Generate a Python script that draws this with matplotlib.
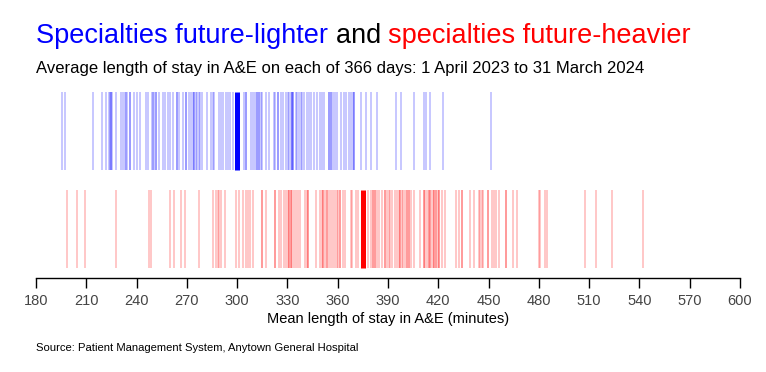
import matplotlib
matplotlib.use("Agg")
import matplotlib.pyplot as plt
import numpy as np

plt.rcParams["font.family"] = ["Liberation Sans", "DejaVu Sans"]

# daily mean length of stay (minutes)
lighter_days = [
    195.7, 197.5, 214.2, 219.6, 221.9, 223.4, 224.2, 224.9, 224.9, 225.5, 227.9, 230.9,
    232.1, 232.8, 233.4, 234.1, 236.3, 236.3, 238.3, 240.4, 242.2, 245.4, 246.8, 249.0,
    249.7, 250.4, 251.6, 251.6, 253.4, 255.9, 257.1, 258.8, 259.9, 261.9, 263.9, 263.9,
    265.3, 267.5, 269.7, 269.7, 271.5, 272.6, 273.5, 274.4, 274.4, 275.3, 276.0, 277.2,
    278.1, 278.9, 282.2, 284.4, 285.3, 286.2, 289.4, 290.4, 291.7, 293.2, 294.5, 295.9,
    297.5, 304.3, 305.3, 305.3, 308.3, 309.3, 310.5, 311.8, 311.8, 313.0, 313.0, 314.0,
    314.8, 317.4, 318.8, 321.8, 322.8, 324.6, 324.6, 326.2, 327.4, 329.2, 330.1, 331.1,
    332.0, 332.9, 332.9, 333.6, 333.6, 335.1, 336.0, 336.9, 337.8, 338.7, 340.1, 341.9,
    343.0, 344.1, 346.0, 347.8, 349.4, 350.6, 351.8, 355.0, 355.0, 356.0, 356.0, 356.9,
    358.6, 359.6, 362.0, 363.8, 364.9, 366.7, 368.1, 369.0, 369.9, 369.9, 374.1, 376.6,
    380.0, 383.6, 394.9, 397.9, 405.7, 411.5, 412.6, 415.2, 422.9, 451.6,
]
heavier_days = [
    198.7, 204.6, 209.4, 227.9, 247.4, 248.4, 260.1, 262.5, 266.7, 269.1, 277.4, 285.8,
    287.4, 288.4, 289.2, 290.4, 292.9, 299.5, 301.3, 303.7, 305.3, 306.5, 307.7, 309.6,
    315.0, 315.0, 317.4, 322.8, 322.8, 325.2, 326.3, 328.0, 329.2, 330.5, 331.1, 331.1,
    332.3, 332.3, 333.0, 333.9, 335.1, 336.3, 337.5, 340.5, 341.7, 342.5, 342.5, 347.2,
    349.6, 350.8, 351.4, 351.4, 352.2, 353.4, 353.4, 354.6, 356.0, 357.0, 358.6, 359.6,
    360.2, 361.5, 361.5, 363.2, 364.5, 367.8, 368.5, 370.7, 372.3, 378.1, 379.7, 381.2,
    381.2, 382.0, 382.0, 383.3, 384.5, 386.6, 388.0, 388.4, 389.5, 390.6, 391.4, 392.4,
    394.4, 395.6, 396.4, 397.2, 397.2, 398.2, 399.1, 400.1, 401.2, 401.2, 402.3, 402.3,
    403.5, 405.8, 408.8, 411.2, 411.2, 411.9, 413.1, 414.2, 414.2, 414.9, 415.6, 417.0,
    417.7, 417.7, 418.9, 418.9, 419.6, 420.6, 420.6, 422.0, 424.2, 430.7, 432.1, 434.3,
    434.3, 439.1, 441.4, 444.0, 444.9, 446.1, 446.9, 449.4, 449.4, 451.8, 453.5, 454.7,
    456.3, 460.5, 460.5, 464.8, 467.0, 479.8, 480.5, 483.8, 484.7, 507.7, 514.3, 523.8,
    542.3,
]
lighter_median = 300
heavier_median = 375
x_ticks = list(range(180, 601, 30))

fig = plt.figure(figsize=(7.66, 3.72), dpi=100)
ax = fig.add_axes([36 / 766, 1 - 278 / 372, 704 / 766, 186 / 372])

# strips: blue on top, red below (axes fraction of height)
ax.vlines(lighter_days, 0.581, 1.0, color="blue", alpha=0.22, lw=1.4)
ax.vlines([lighter_median], 0.581, 1.0, color="blue", lw=3.6)
ax.vlines(heavier_days, 0.054, 0.473, color="red", alpha=0.22, lw=1.4)
ax.vlines([heavier_median], 0.054, 0.473, color="red", lw=3.6)

ax.set_xlim(180, 600)
ax.set_ylim(0, 1)
ax.set_yticks([])
for s in ["top", "left", "right"]:
    ax.spines[s].set_visible(False)
ax.spines["bottom"].set_linewidth(1.0)
ax.set_xticks(x_ticks)
ax.tick_params(axis="x", length=7.5, width=1.0, pad=4, labelsize=10.5, labelcolor="#444444")
ax.set_xlabel("Mean length of stay in A&E (minutes)", fontsize=10.5, labelpad=3)

# title in three colours
fig.canvas.draw()
r = fig.canvas.get_renderer()
x0 = 36 / 766
ty = 1 - 43 / 372
parts = [("Specialties future-lighter ", "blue"), ("and ", "black"), ("specialties future-heavier", "red")]
for txt, col in parts:
    t = fig.text(x0, ty, txt, color=col, fontsize=19.5, va="baseline", ha="left")
    bb = t.get_window_extent(renderer=r)
    x0 += bb.width / fig.bbox.width

fig.text(36 / 766, 1 - 72.5 / 372,
         "Average length of stay in A&E on each of 366 days: 1 April 2023 to 31 March 2024",
         fontsize=12, va="baseline", ha="left")
fig.text(36 / 766, 1 - 351 / 372, "Source: Patient Management System, Anytown General Hospital",
         fontsize=8.1, va="baseline", ha="left")

fig.savefig("out.png", dpi=100)
